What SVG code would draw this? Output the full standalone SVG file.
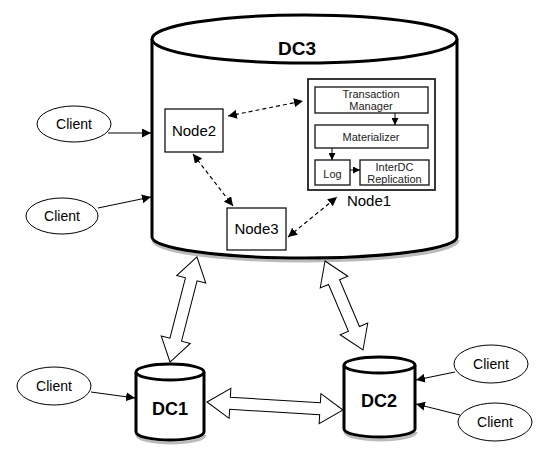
<svg xmlns="http://www.w3.org/2000/svg" width="550" height="465" viewBox="0 0 550 465">
<defs>
<style>
.cyl{fill:#fff;stroke:#000;stroke-width:3}
.shd{fill:none;stroke:#bbb;stroke-width:3}
.box{fill:#fff;stroke:#000;stroke-width:1.2}
.obox{fill:#fff;stroke:#222;stroke-width:1.8}
.ibox{fill:#fff;stroke:#222;stroke-width:1.4}
.ell{fill:#fff;stroke:#000;stroke-width:1}
.t{font-family:"Liberation Sans",Arial,sans-serif;fill:#000;text-anchor:middle}
.dc{font-weight:bold;font-size:18px}
.nd{font-size:15px}
.cl{font-size:14px}
.sm{font-size:11px;fill:#222}
.arr{stroke:#000;stroke-width:1;fill:none}
.dash{stroke:#000;stroke-width:1.2;fill:none;stroke-dasharray:4 3}
.blk{fill:#fff;stroke:#000;stroke-width:1}
</style>
<marker id="ah" viewBox="0 0 10 10" refX="10" refY="5" markerWidth="9" markerHeight="9" markerUnits="userSpaceOnUse" orient="auto-start-reverse">
<path d="M0,0 L10,5 L0,10 Z" fill="#000"/>
</marker>
<marker id="sh" viewBox="0 0 10 10" refX="10" refY="5" markerWidth="7" markerHeight="7" markerUnits="userSpaceOnUse" orient="auto">
<path d="M0,0 L10,5 L0,10 Z" fill="#000"/>
</marker>
</defs>

<g id="DC3">
<path class="shd" d="M153,240 A152.5,21 0 0 0 458,240"/>
<path class="cyl" d="M152,39 L152,237 A152.5,21 0 0 0 457,237 L457,39"/>
<ellipse class="cyl" cx="304.5" cy="39" rx="152.5" ry="24"/>
<text class="t dc" x="297" y="55" style="font-size:19px">DC3</text>
</g>

<g id="Node1">
<rect class="obox" x="308" y="79" width="127" height="111"/>
<rect class="ibox" x="315" y="87" width="113" height="26"/>
<text class="t sm" x="371" y="98">Transaction</text>
<text class="t sm" x="371" y="110">Manager</text>
<rect class="ibox" x="315" y="125" width="113" height="23"/>
<text class="t sm" x="371" y="141">Materializer</text>
<rect class="ibox" x="315" y="160" width="35" height="25"/>
<text class="t sm" x="332.5" y="178">Log</text>
<rect class="ibox" x="360" y="160" width="69" height="25"/>
<text class="t sm" x="394.5" y="171">InterDC</text>
<text class="t sm" x="394.5" y="183">Replication</text>
<text class="t nd" x="369" y="206">Node1</text>
</g>

<g id="Node2">
<rect class="box" x="165" y="109" width="58" height="43"/>
<text class="t nd" x="194" y="136">Node2</text>
</g>

<g id="Node3">
<rect class="box" x="227" y="208" width="59" height="42"/>
<text class="t nd" x="256.5" y="234">Node3</text>
</g>

<g id="DC1">
<path class="shd" d="M137,435 A34,8 0 0 0 205,435"/>
<path class="cyl" d="M136,372 L136,432 A34,8 0 0 0 204,432 L204,372"/>
<ellipse class="cyl" cx="170" cy="372" rx="34" ry="8"/>
<text class="t dc" x="170" y="415">DC1</text>
</g>

<g id="DC2">
<path class="shd" d="M345,432 A35.5,8 0 0 0 416,432"/>
<path class="cyl" d="M344,365 L344,429 A35.5,8 0 0 0 415,429 L415,365"/>
<ellipse class="cyl" cx="379.5" cy="365" rx="35.5" ry="8"/>
<text class="t dc" x="379" y="407">DC2</text>
</g>

<g id="Client1">
<ellipse class="ell" cx="74" cy="124" rx="37" ry="18"/>
<text class="t cl" x="74" y="129">Client</text>
</g>
<g id="Client2">
<ellipse class="ell" cx="62" cy="216" rx="36" ry="18"/>
<text class="t cl" x="62" y="221">Client</text>
</g>
<g id="Client3">
<ellipse class="ell" cx="54" cy="386" rx="37" ry="19"/>
<text class="t cl" x="54" y="391">Client</text>
</g>
<g id="Client4">
<ellipse class="ell" cx="491" cy="364" rx="37" ry="19"/>
<text class="t cl" x="491" y="369">Client</text>
</g>
<g id="Client5">
<ellipse class="ell" cx="495" cy="422" rx="37" ry="19"/>
<text class="t cl" x="495" y="427">Client</text>
</g>

<g id="connectors">
<line class="arr" x1="108" y1="133" x2="151" y2="133" marker-end="url(#ah)"/>
<line class="arr" x1="98" y1="208" x2="151" y2="197" marker-end="url(#ah)"/>
<line class="arr" x1="91" y1="392" x2="135" y2="398" marker-end="url(#ah)"/>
<line class="arr" x1="455" y1="372" x2="416" y2="380" marker-end="url(#ah)"/>
<line class="arr" x1="460" y1="415" x2="416" y2="404" marker-end="url(#ah)"/>

<line class="dash" x1="228" y1="116" x2="303" y2="101" marker-start="url(#ah)" marker-end="url(#ah)"/>
<line class="dash" x1="193" y1="154" x2="233" y2="206" marker-start="url(#ah)" marker-end="url(#ah)"/>
<line class="dash" x1="288" y1="237" x2="337" y2="197" marker-start="url(#ah)" marker-end="url(#ah)"/>

<line class="arr" x1="395" y1="113" x2="395" y2="125" marker-end="url(#sh)"/>
<line class="arr" x1="332" y1="148" x2="332" y2="160" marker-end="url(#sh)"/>
<line class="arr" x1="350" y1="170" x2="360" y2="170" marker-end="url(#sh)"/>

<path class="blk" transform="translate(183.5,309.5) rotate(104.4)" d="M-54.2,0 L-31.2,-15 L-31.2,-6 L31.2,-6 L31.2,-15 L54.2,0 L31.2,15 L31.2,6 L-31.2,6 L-31.2,15 Z"/>
<path class="blk" transform="translate(344,305.5) rotate(66.9)" d="M-48.4,0 L-25.4,-15 L-25.4,-6 L25.4,-6 L25.4,-15 L48.4,0 L25.4,15 L25.4,6 L-25.4,6 L-25.4,15 Z"/>
<path class="blk" transform="translate(275,406) rotate(3.37)" d="M-68.1,0 L-45.1,-15 L-45.1,-6 L45.1,-6 L45.1,-15 L68.1,0 L45.1,15 L45.1,6 L-45.1,6 L-45.1,15 Z"/>
</g>
</svg>
